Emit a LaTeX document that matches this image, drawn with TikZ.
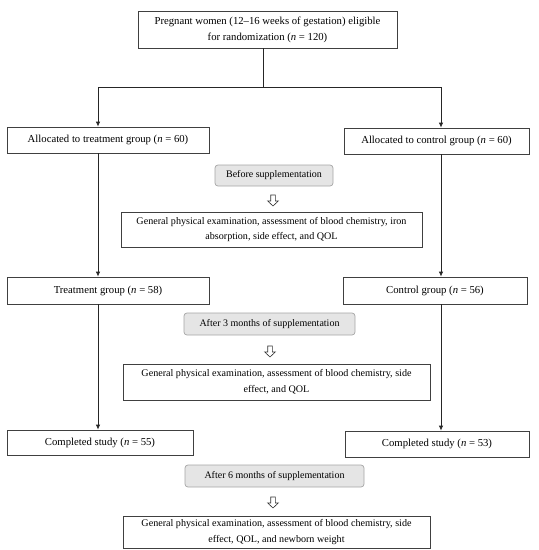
\documentclass[tikz,border=0pt]{standalone}
\usepackage{fontspec}
\setmainfont{Liberation Serif}
\usetikzlibrary{arrows.meta,calc}
\begin{document}
\begin{tikzpicture}[x=1pt,y=-1pt,
  box/.style={draw=black!75,line width=0.8pt,fill=white,inner sep=0pt,align=center,font=\fontsize{10.7}{16}\selectfont},
  graybox/.style={draw=black!35,line width=0.7pt,fill=black!10,rounded corners=3pt,inner sep=0pt,align=center,font=\fontsize{10}{12}\selectfont},
  detail/.style={draw=black!75,line width=0.8pt,fill=white,inner sep=0pt,align=center,font=\fontsize{10.1}{15.5}\selectfont},
  arr/.style={draw=black!85,line width=0.8pt,-{Latex[length=5pt,width=4.5pt]}},
  ln/.style={draw=black!85,line width=0.8pt},
  hollow/.style={draw=black!80,line width=0.6pt,fill=white}]
\useasboundingbox (0,0) rectangle (539,550);
\fill[white] (0,0) rectangle (539,550);

\node[box,minimum width=259,minimum height=37] (top) at (267.5,29.5) {Pregnant women (12--16 weeks of gestation) eligible\\for randomization (\textit{n} = 120)};
\node[box,minimum width=202,minimum height=26] (allocL) at (108,140) {Allocated to treatment group (\textit{n} = 60)};
\node[box,minimum width=185,minimum height=26] (allocR) at (436.5,141) {Allocated to control group (\textit{n} = 60)};
\node[graybox,minimum width=118,minimum height=21] (before) at (274,175.5) {Before supplementation};
\node[detail,minimum width=301,minimum height=35] (det1) at (271.5,229.5) {General physical examination, assessment of blood chemistry, iron\\absorption, side effect, and QOL};
\node[box,minimum width=202,minimum height=27] (treat) at (108,290.5) {Treatment group (\textit{n} = 58)};
\node[box,minimum width=184,minimum height=27] (control) at (435,290.5) {Control group (\textit{n} = 56)};
\node[graybox,minimum width=171,minimum height=22] (after3) at (269.5,324) {After 3 months of supplementation};
\node[detail,minimum width=307,minimum height=36] (det2) at (276.5,382) {General physical examination, assessment of blood chemistry, side\\effect, and QOL};
\node[box,minimum width=186,minimum height=25] (compL) at (100,442.5) {Completed study (\textit{n} = 55)};
\node[box,minimum width=184,minimum height=26] (compR) at (437,444) {Completed study (\textit{n} = 53)};
\node[graybox,minimum width=179,minimum height=22] (after6) at (274.5,476) {After 6 months of supplementation};
\node[detail,minimum width=307,minimum height=32] (det3) at (276.5,532) {General physical examination, assessment of blood chemistry, side\\effect, QOL, and newborn weight};

\coordinate (split) at (263,87);
\coordinate (lx) at (98,0);
\coordinate (rx) at (441,0);

\draw[ln] (split |- top.south) -- (split);
\draw[arr] (split) -| (lx |- allocL.north);
\draw[arr] (split) -| (rx |- allocR.north);
\draw[arr] (lx |- allocL.south) -- (lx |- treat.north);
\draw[arr] (rx |- allocR.south) -- (rx |- control.north);
\draw[arr] (lx |- treat.south) -- (lx |- compL.north);
\draw[arr] (rx |- control.south) -- (rx |- compR.north);

\foreach \cx/\cy in {273/195, 270/346, 273/497}{
  \draw[hollow] (\cx-2.3,\cy) -- (\cx+2.3,\cy) -- (\cx+2.3,\cy+6) -- (\cx+5.3,\cy+6)
     -- (\cx,\cy+11) -- (\cx-5.3,\cy+6) -- (\cx-2.3,\cy+6) -- cycle;
}
\end{tikzpicture}
\end{document}
